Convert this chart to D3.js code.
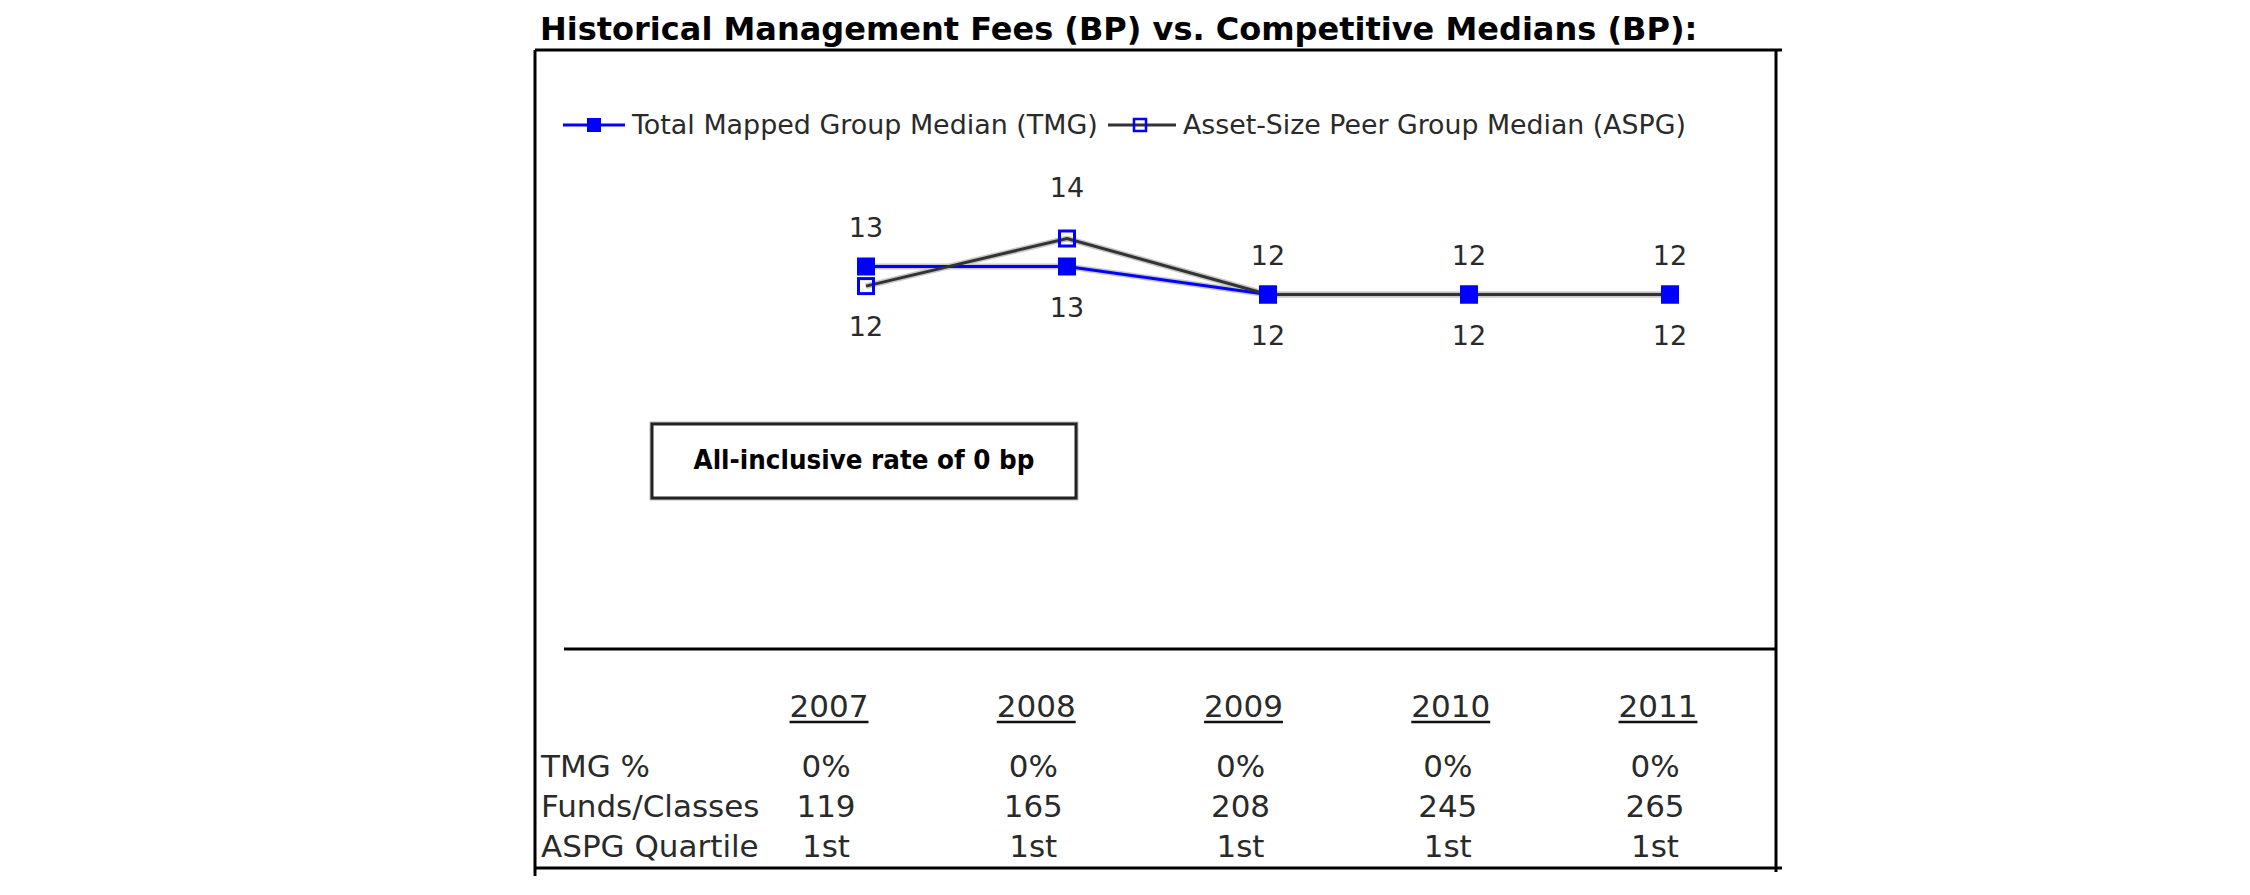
<!DOCTYPE html>
<html><head><meta charset="utf-8">
<script src="https://cdn.jsdelivr.net/npm/d3@7"></script>
<style>body{margin:0;background:#fff} svg{display:block}</style>
</head><body>
<svg id="c" width="2250" height="895"></svg>
<script>
// ---- data ----
const years = ["2007", "2008", "2009", "2010", "2011"];
const tmg = [13, 13, 12, 12, 12];
const aspg = [12.3, 14, 12, 12, 12];
const tmgPct = ["0%", "0%", "0%", "0%", "0%"];
const funds = ["119", "165", "208", "245", "265"];
const quartile = ["1st", "1st", "1st", "1st", "1st"];
const rowLabels = ["TMG %", "Funds/Classes", "ASPG Quartile"];
const seriesNames = ["Total Mapped Group Median (TMG)", "Asset-Size Peer Group Median (ASPG)"];
const titleText = "Historical Management Fees (BP) vs. Competitive Medians (BP):";
const noteText = "All-inclusive rate of 0 bp";

// ---- layout ----
const svg = d3.select("#c");
const BLUE = "#0000ff", GRAY = "#333333", TXT = "#2a2a2a";
const FONT = "'DejaVu Sans', Verdana, sans-serif";

function fit(sel, w) {
  const L = sel.node().getComputedTextLength();
  const fs = parseFloat(sel.attr("font-size"));
  sel.attr("font-size", fs * w / L);
  return sel;
}

// title
const title = svg.append("text").attr("x", 540).attr("y", 40)
  .attr("font-family", FONT).attr("font-weight", "bold").attr("font-size", 27)
  .attr("fill", "#000").text(titleText);
fit(title, 1158);

// frame
const box = {l: 535, t: 50, r: 1776, b: 868};
const frame = svg.append("g").attr("stroke", "#000").attr("stroke-width", 3).attr("fill", "none");
frame.append("line").attr("x1", box.l).attr("x2", box.r + 6).attr("y1", box.t).attr("y2", box.t);
frame.append("line").attr("x1", box.l).attr("x2", box.l).attr("y1", box.t).attr("y2", box.b + 8);
frame.append("line").attr("x1", box.r).attr("x2", box.r).attr("y1", box.t).attr("y2", box.b + 4);
frame.append("line").attr("x1", box.l).attr("x2", box.r + 6).attr("y1", box.b).attr("y2", box.b);
frame.append("line").attr("x1", 564).attr("x2", box.r).attr("y1", 649).attr("y2", 649);

// scales
const x = d3.scalePoint().domain(years).range([866, 1670]);
const y = d3.scaleLinear().domain([12, 14]).range([294.5, 238.5]);

const tmgData = years.map((yr, i) => ({yr, v: tmg[i], other: aspg[i]}));
const aspgData = years.map((yr, i) => ({yr, v: aspg[i], other: tmg[i]}));
const line = d3.line().x(d => x(d.yr)).y(d => y(d.v));

const plot = svg.append("g");
plot.append("path").datum(tmgData).attr("d", line).attr("fill", "none")
  .attr("stroke", "#c8c8c8").attr("stroke-width", 6);
plot.append("path").datum(aspgData).attr("d", line).attr("fill", "none")
  .attr("stroke", "#c8c8c8").attr("stroke-width", 6);
plot.append("path").datum(tmgData).attr("d", line).attr("fill", "none")
  .attr("stroke", BLUE).attr("stroke-width", 3);
plot.append("path").datum(aspgData).attr("d", line).attr("fill", "none")
  .attr("stroke", GRAY).attr("stroke-width", 3);

const S = 18;
plot.selectAll("rect.tmg").data(tmgData).join("rect").attr("class", "tmg")
  .attr("x", d => x(d.yr) - S / 2).attr("y", d => y(d.v) - S / 2)
  .attr("width", S).attr("height", S).attr("fill", BLUE);
const H = 15;
plot.selectAll("rect.aspg").data(aspgData).join("rect").attr("class", "aspg")
  .attr("x", d => x(d.yr) - H / 2).attr("y", d => y(d.v) - H / 2)
  .attr("width", H).attr("height", H).attr("fill", "none")
  .attr("stroke", BLUE).attr("stroke-width", 3);

// data labels: higher series above, lower below (TMG above on ties)
function labels(data, isTmg) {
  plot.selectAll(null).data(data).join("text")
    .attr("x", d => x(d.yr))
    .attr("y", d => {
      const above = isTmg ? d.v >= d.other : d.v > d.other;
      const gap = Math.abs(d.v - d.other) > 0.5 && d.v > d.other && !isTmg ? 42 : 30;
      return above ? y(d.v) - gap : y(d.v) + 50;
    })
    .attr("text-anchor", "middle").attr("font-family", FONT).attr("font-size", 27)
    .attr("fill", TXT).text(d => d3.format(".0f")(d.v));
}
labels(tmgData, true);
labels(aspgData, false);

// legend
const lg = svg.append("g");
const ly = 125;
lg.append("line").attr("x1", 563).attr("x2", 625).attr("y1", ly).attr("y2", ly)
  .attr("stroke", BLUE).attr("stroke-width", 3);
lg.append("rect").attr("x", 594 - 7).attr("y", ly - 7).attr("width", 14).attr("height", 14).attr("fill", BLUE);
const t1 = lg.append("text").attr("x", 632).attr("y", ly + 9).attr("font-family", FONT)
  .attr("font-size", 27).attr("fill", TXT).text(seriesNames[0]);
fit(t1, 466);
lg.append("line").attr("x1", 1108).attr("x2", 1176).attr("y1", ly).attr("y2", ly)
  .attr("stroke", GRAY).attr("stroke-width", 3);
lg.append("rect").attr("x", 1140 - 6).attr("y", ly - 6).attr("width", 12).attr("height", 12)
  .attr("fill", "none").attr("stroke", BLUE).attr("stroke-width", 2.5);
const t2 = lg.append("text").attr("x", 1183).attr("y", ly + 9).attr("font-family", FONT)
  .attr("font-size", 27).attr("fill", TXT).text(seriesNames[1]);
fit(t2, 503);

// annotation box
svg.append("rect").attr("x", 652).attr("y", 424).attr("width", 424).attr("height", 74)
  .attr("fill", "none").attr("stroke", "#bdbdbd").attr("stroke-width", 5);
svg.append("rect").attr("x", 652).attr("y", 424).attr("width", 424).attr("height", 74)
  .attr("fill", "#fff").attr("stroke", "#222").attr("stroke-width", 3);
const note = svg.append("text").attr("x", 864).attr("y", 469).attr("text-anchor", "middle")
  .attr("font-family", "'Liberation Sans Narrow', 'DejaVu Sans Condensed', 'DejaVu Sans', sans-serif")
  .attr("font-weight", "bold").attr("font-size", 28).attr("fill", "#000").text(noteText);
fit(note, 341);

// table
const cx = d3.scalePoint().domain(years).range([829, 1658]);
const tbl = svg.append("g").attr("font-family", FONT).attr("font-size", 31).attr("fill", TXT);
const heads = tbl.selectAll("text.yr").data(years).join("text").attr("class", "yr")
  .attr("x", d => cx(d)).attr("y", 717).attr("text-anchor", "middle").text(d => d);
heads.each(function (d) {
  const w = this.getComputedTextLength();
  tbl.append("line").attr("x1", cx(d) - w / 2).attr("x2", cx(d) + w / 2)
    .attr("y1", 722).attr("y2", 722).attr("stroke", "#111").attr("stroke-width", 2.5);
});
const rows = [tmgPct, funds, quartile];
const rowY = [777, 817, 857];
rows.forEach((vals, r) => {
  tbl.append("text").attr("x", 541).attr("y", rowY[r]).text(rowLabels[r]);
  tbl.selectAll(null).data(vals).join("text")
    .attr("x", (d, i) => cx(years[i]) - 3).attr("y", rowY[r])
    .attr("text-anchor", "middle").text(d => d);
});
</script>
</body></html>
